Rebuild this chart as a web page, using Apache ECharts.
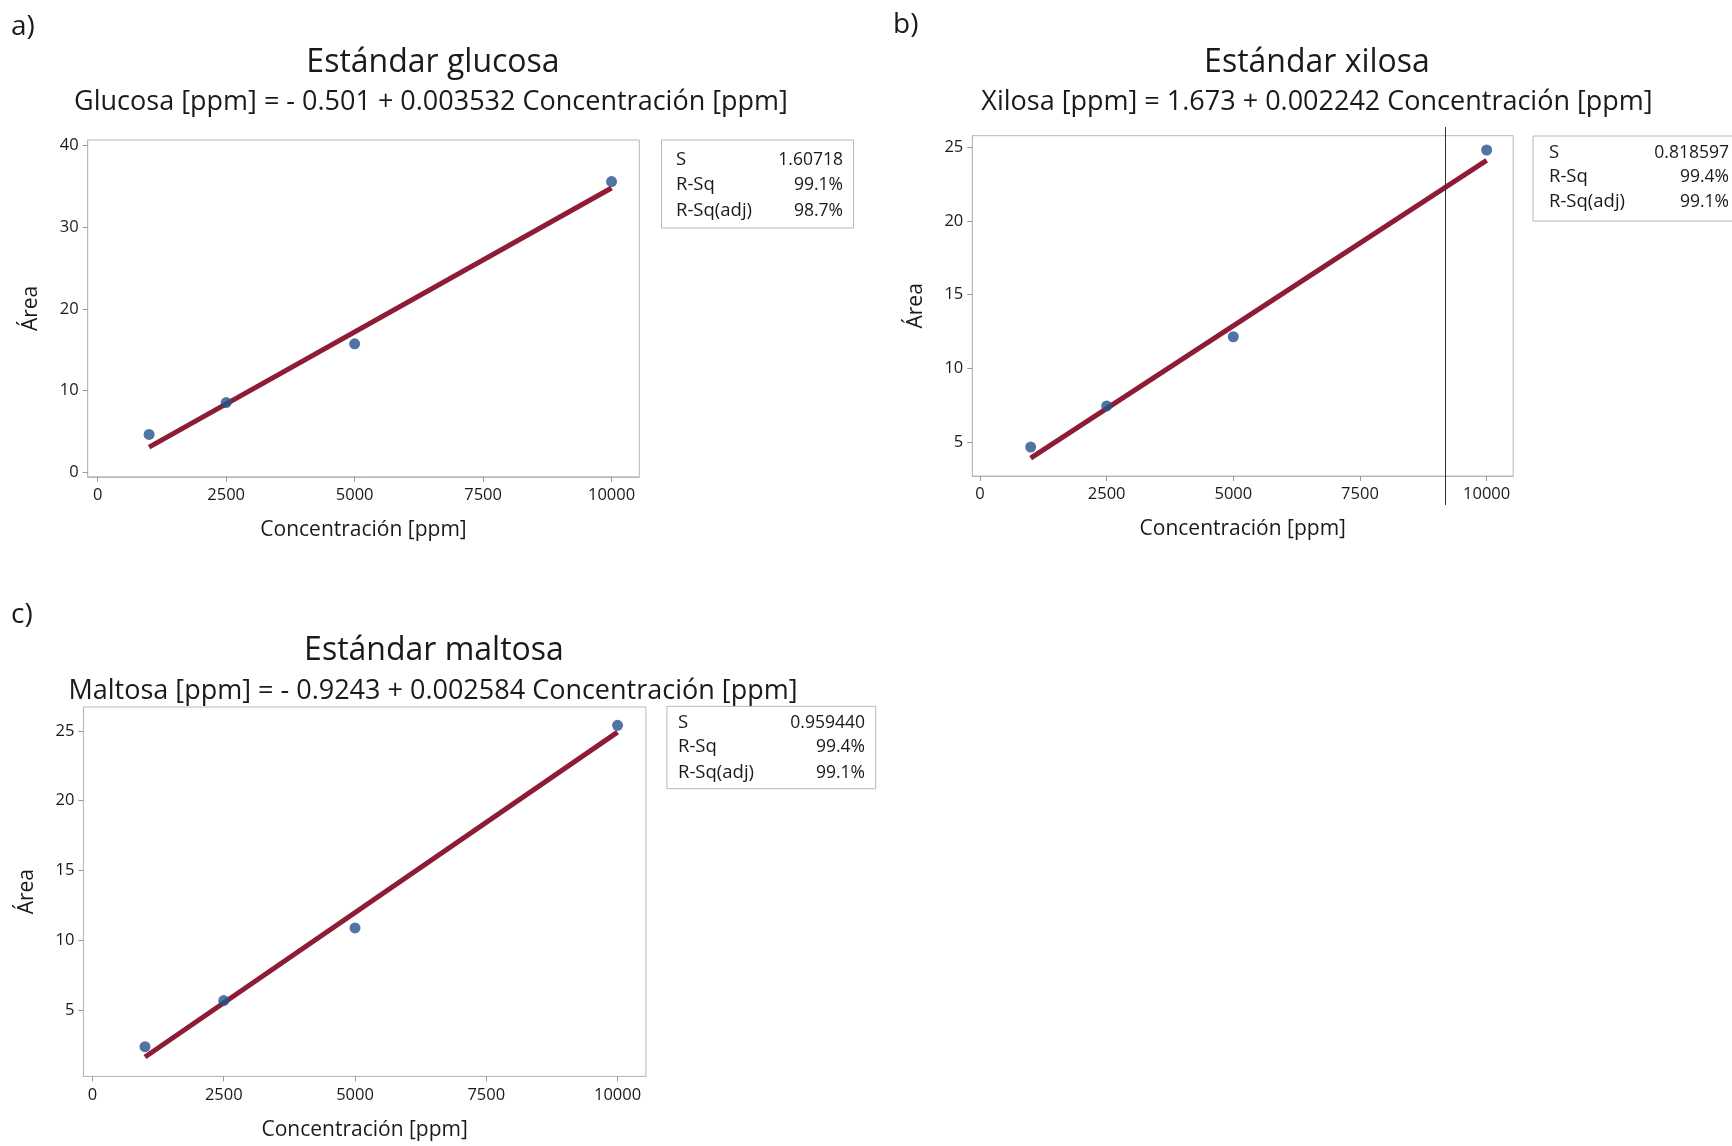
<!DOCTYPE html>
<html>
<head>
<meta charset="utf-8">
<script src="https://cdn.jsdelivr.net/npm/echarts@6/dist/echarts.min.js"></script>
<style>
  html, body { margin: 0; padding: 0; background: #ffffff; }
  #chart { width: 1732px; height: 1146px; }
</style>
</head>
<body>
<div id="chart"></div>
<script>
// Calibration standards: peak area vs. concentration
const concentration = [1000, 2500, 5000, 10000];
const areaGlucosa = [4.6, 8.5, 15.7, 35.6];
const areaXilosa = [4.66, 7.45, 12.14, 24.8];
const areaMaltosa = [2.4, 5.7, 10.9, 25.4];

// Fitted regression coefficients (intercept, slope) per standard
const intercepts = [-0.501, 1.673, -0.9243];
const slopes = [0.003532, 0.002242, 0.002584];

// Tick labels
const xTicks = [0, 2500, 5000, 7500, 10000];
const yTicksGlucosa = [0, 10, 20, 30, 40];
const yTicksXilosa = [5, 10, 15, 20, 25];
const yTicksMaltosa = [5, 10, 15, 20, 25];

// Texts
const panelLetters = ['a)', 'b)', 'c)'];
const panelTitles = ['Estándar glucosa', 'Estándar xilosa', 'Estándar maltosa'];
const equations = [
  'Glucosa [ppm] = - 0.501 + 0.003532 Concentración [ppm]',
  'Xilosa [ppm] = 1.673 + 0.002242 Concentración [ppm]',
  'Maltosa [ppm] = - 0.9243 + 0.002584 Concentración [ppm]'
];
const statNames = ['S', 'R-Sq', 'R-Sq(adj)'];
const statS = ['1.60718', '0.818597', '0.959440'];
const statRSq = ['99.1%', '99.4%', '99.4%'];
const statRSqAdj = ['98.7%', '99.1%', '99.1%'];

const FONT = "'Open Sans', 'Noto Sans', sans-serif";
const TEXT = '#1a1a1a';
const FRAME = '#b8b8b8';
const POINT = '#24528f';
const FIT = '#8e1c36';

// Layout of each panel (pixels) and axis extents
const panels = [
  { grid: { left: 87.7, top: 140, width: 551.6, height: 336.8 }, x: [-195, 10540], y: [-0.6, 40.7], yTicks: yTicksGlucosa, area: areaGlucosa,
    letter: [11, 27], title: [433, 63], eq: [431, 102],
    box: { x: 661.5, y: 140, w: 192, h: 88, sx: 676, vx: 843, rows: [160, 185, 211] } },
  { grid: { left: 972.3, top: 135.7, width: 540.9, height: 340.3 }, x: [-152, 10524], y: [2.7, 25.77], yTicks: yTicksXilosa, area: areaXilosa,
    letter: [893, 25], title: [1317, 63], eq: [1317, 102],
    box: { x: 1533, y: 136, w: 240, h: 85, sx: 1549, vx: 1729, rows: [153, 177, 202] } },
  { grid: { left: 83.4, top: 707, width: 562.5, height: 369.4 }, x: [-173, 10540], y: [0.27, 26.71], yTicks: yTicksMaltosa, area: areaMaltosa,
    letter: [11, 615], title: [434, 651], eq: [433, 691],
    box: { x: 666.9, y: 706.4, w: 208.8, h: 82.3, sx: 678, vx: 865, rows: [723, 747, 773] } }
];

const grids = [], xAxes = [], yAxes = [], series = [], graphics = [];

panels.forEach((p, i) => {
  grids.push(Object.assign({ show: true, borderColor: FRAME, borderWidth: 1, containLabel: false }, p.grid));

  xAxes.push({
    type: 'value', gridIndex: i, min: p.x[0], max: p.x[1],
    name: 'Concentración [ppm]', nameLocation: 'middle', nameGap: 43,
    nameTextStyle: { fontSize: 21, color: TEXT, fontFamily: FONT },
    axisLine: { show: true, onZero: false, lineStyle: { color: FRAME } },
    axisTick: { show: true, customValues: xTicks, length: 5, lineStyle: { color: '#999' } },
    axisLabel: { customValues: xTicks, fontSize: 16.5, color: TEXT, margin: 10, fontFamily: FONT, formatter: v => String(v) },
    splitLine: { show: false }
  });

  yAxes.push({
    type: 'value', gridIndex: i, min: p.y[0], max: p.y[1],
    name: 'Área', nameLocation: 'middle', nameGap: 46,
    nameTextStyle: { fontSize: 21, color: TEXT, fontFamily: FONT },
    axisLine: { show: true, onZero: false, lineStyle: { color: FRAME } },
    axisTick: { show: true, customValues: p.yTicks, length: 5, lineStyle: { color: '#999' } },
    axisLabel: { customValues: p.yTicks, fontSize: 16.5, color: TEXT, margin: 9, fontFamily: FONT, formatter: v => String(v) },
    splitLine: { show: false }
  });

  // Fitted line over the range of the standards
  const xLo = Math.min.apply(null, concentration);
  const xHi = Math.max.apply(null, concentration);
  series.push({
    type: 'line', xAxisIndex: i, yAxisIndex: i, symbol: 'none', silent: true, z: 2,
    lineStyle: { color: FIT, width: 5 },
    data: [[xLo, intercepts[i] + slopes[i] * xLo], [xHi, intercepts[i] + slopes[i] * xHi]]
  });

  series.push({
    type: 'scatter', xAxisIndex: i, yAxisIndex: i, symbol: 'circle', symbolSize: 11, z: 3,
    itemStyle: { color: POINT },
    data: concentration.map((c, k) => [c, p.area[k]])
  });

  // Panel letter, title and equation
  graphics.push({ type: 'text', x: p.letter[0], y: p.letter[1],
    style: { text: panelLetters[i], fontSize: 28, fill: TEXT, fontFamily: FONT, verticalAlign: 'middle' } });
  graphics.push({ type: 'text', x: p.title[0], y: p.title[1],
    style: { text: panelTitles[i], fontSize: 32, fontWeight: 500, fill: TEXT, fontFamily: FONT, align: 'center', verticalAlign: 'middle' } });
  graphics.push({ type: 'text', x: p.eq[0], y: p.eq[1],
    style: { text: equations[i], fontSize: 27, fontWeight: 500, fill: TEXT, fontFamily: FONT, align: 'center', verticalAlign: 'middle' } });

  // Summary statistics box
  const b = p.box;
  graphics.push({ type: 'rect', shape: { x: b.x, y: b.y, width: b.w, height: b.h },
    style: { fill: '#ffffff', stroke: FRAME, lineWidth: 1 } });
  const vals = [statS[i], statRSq[i], statRSqAdj[i]];
  statNames.forEach((nm, r) => {
    graphics.push({ type: 'text', x: b.sx, y: b.rows[r],
      style: { text: nm, fontSize: 18.5, fill: TEXT, fontFamily: FONT, align: 'left', verticalAlign: 'middle' } });
    graphics.push({ type: 'text', x: b.vx, y: b.rows[r],
      style: { text: vals[r], fontSize: 17.5, fill: TEXT, fontFamily: FONT, align: 'right', verticalAlign: 'middle' } });
  });
});

// Thin vertical rule crossing the xilosa panel
graphics.push({ type: 'line', shape: { x1: 1445.5, y1: 127, x2: 1445.5, y2: 505 },
  style: { stroke: '#333333', lineWidth: 1 }, z: 10 });

const chart = echarts.init(document.getElementById('chart'), null, { renderer: 'canvas' });
chart.setOption({
  backgroundColor: '#ffffff',
  animation: false,
  textStyle: { fontFamily: FONT },
  grid: grids,
  xAxis: xAxes,
  yAxis: yAxes,
  series: series,
  graphic: graphics
});
</script>
</body>
</html>
